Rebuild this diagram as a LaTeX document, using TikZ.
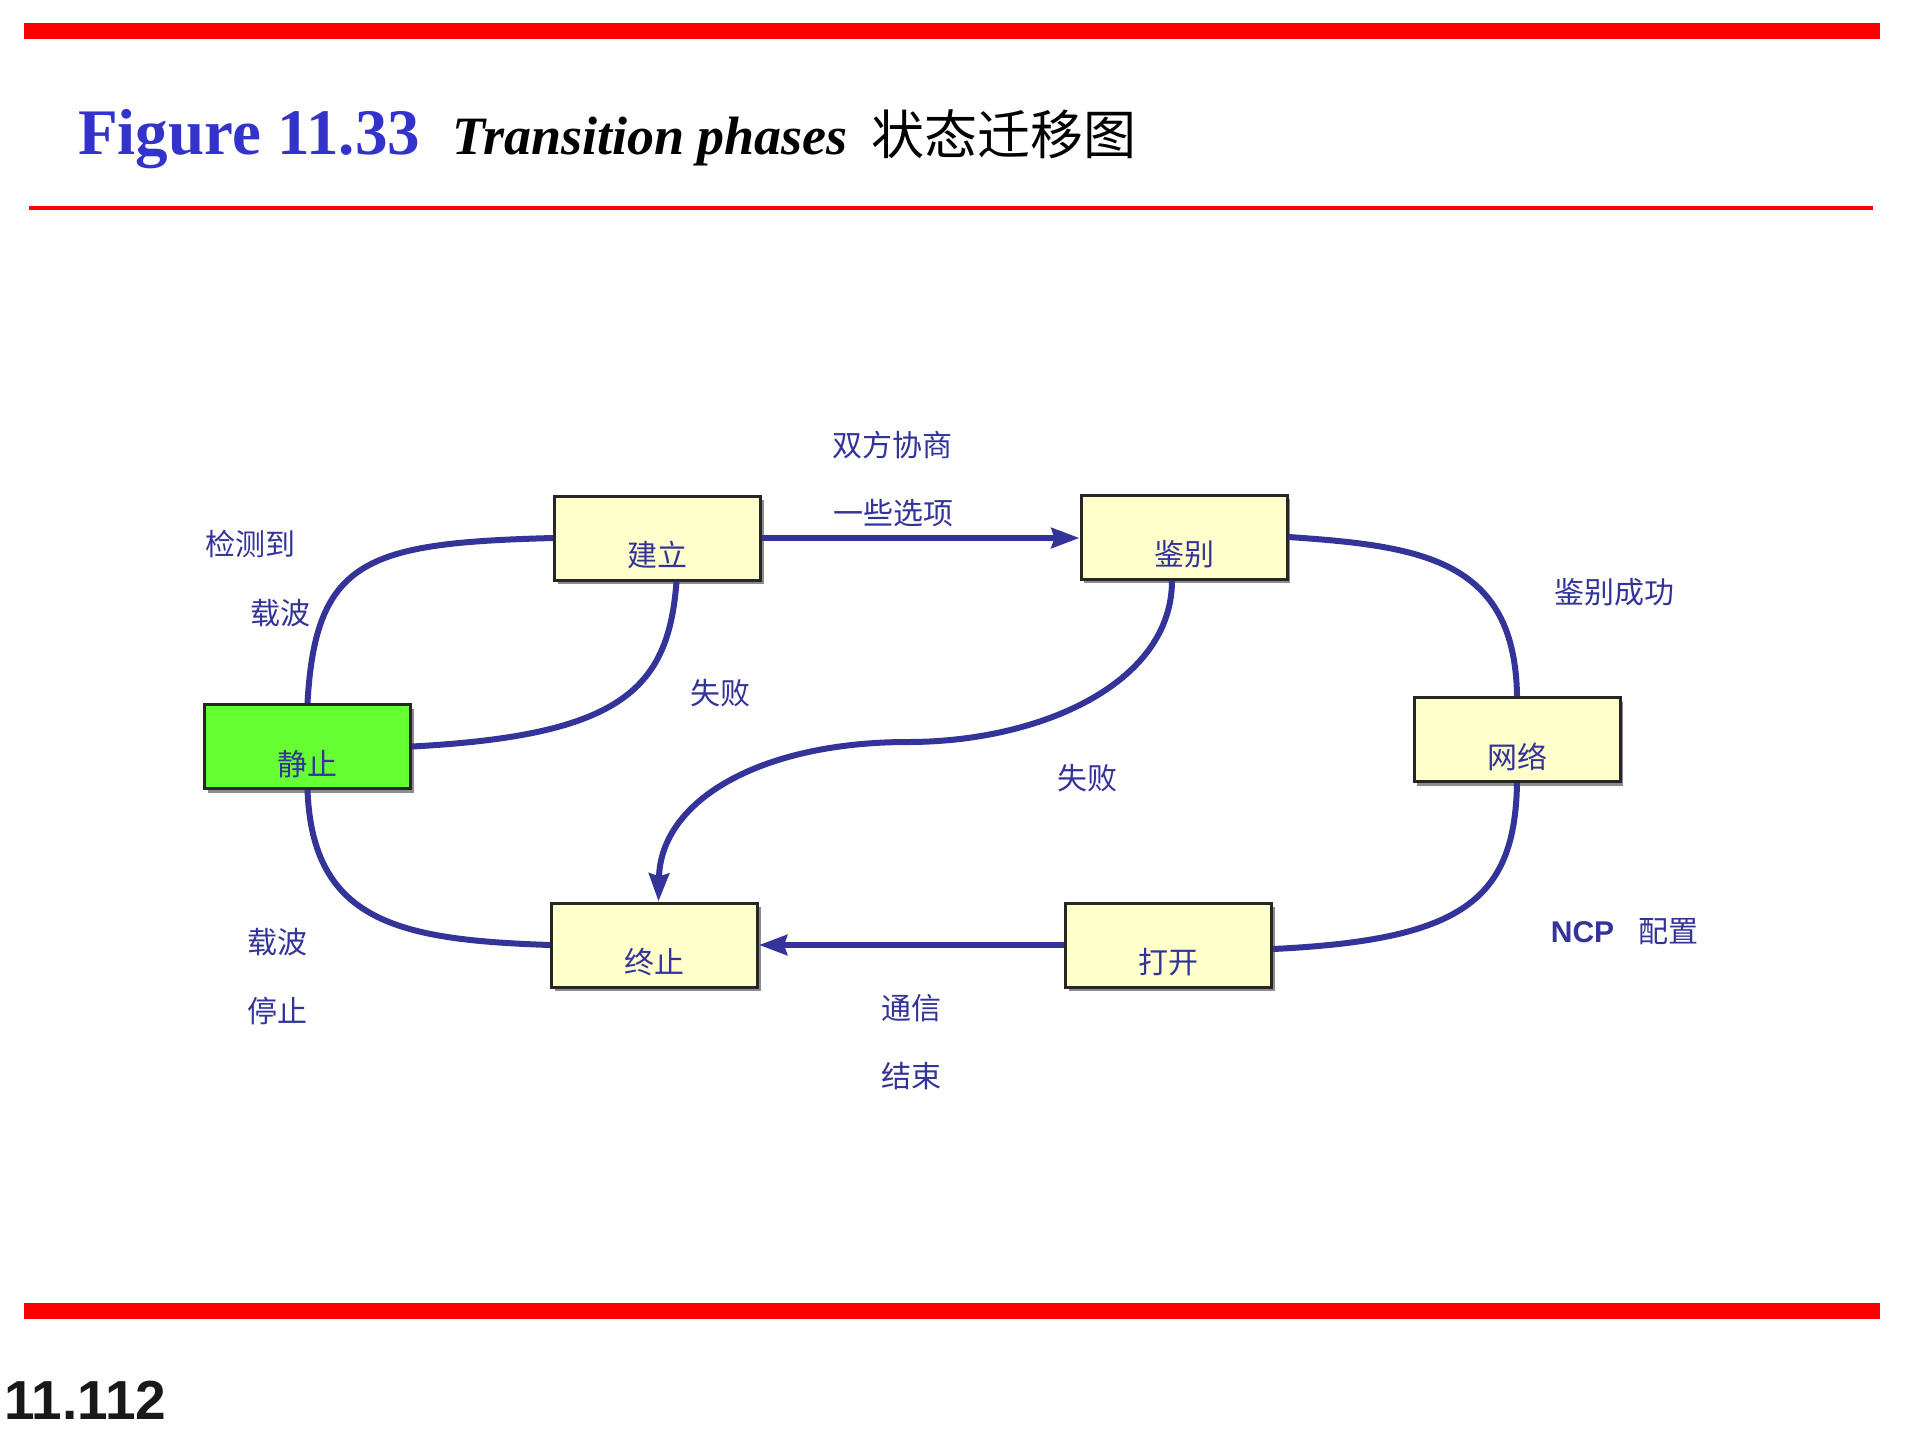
\documentclass[tikz,border=0pt]{standalone}
\usepackage{fontspec}
\setmainfont{Liberation Serif}
\newfontfamily\cjk{Noto Sans CJK SC}
\newfontfamily\arialfont{Liberation Sans}
\usetikzlibrary{arrows.meta,shadows}
\definecolor{lineblue}{RGB}{51,51,153}
\definecolor{titleblue}{RGB}{51,51,204}
\definecolor{boxyellow}{RGB}{255,255,204}
\definecolor{boxgreen}{RGB}{102,255,51}
\definecolor{barred}{RGB}{255,0,0}
\begin{document}
\begin{tikzpicture}[x=1pt,y=-1pt,
  state/.style={draw=black!85, line width=3pt, fill=boxyellow,
    minimum width=206pt, minimum height=84pt, inner sep=0pt,
    text height=57pt, text depth=0pt,
    font=\cjk\fontsize{30}{36}\selectfont, text=lineblue,
    drop shadow={shadow xshift=3pt, shadow yshift=-4pt, fill=black!45, opacity=1}},
  lbl/.style={font=\cjk\fontsize{30}{36}\selectfont, text=lineblue, inner sep=0pt},
  conn/.style={draw=lineblue, line width=6pt},
  arr/.style={conn, -{Stealth[length=28pt,width=20pt,inset=3pt]}}
]
\useasboundingbox[fill=white] (0,0) rectangle (1920,1440);

% red bars
\fill[barred] (24,23) rectangle (1880,39);
\fill[barred] (29,206) rectangle (1873,210);
\fill[barred] (24,1303) rectangle (1880,1319);

% title
\node[anchor=base west, inner sep=0pt, text=titleblue,
  font=\bfseries\fontsize{65}{72}\selectfont] (tfig) at (78,154) {Figure 11.33};
\node[anchor=base west, inner sep=0pt, text=black,
  font=\bfseries\itshape\fontsize{54}{62}\selectfont] (tname) at (452,154) {Transition phases};
\node[anchor=center, inner sep=0pt, text=black,
  font=\cjk\fontsize{53}{60}\selectfont] (tcn) at (1004,134) {状态迁移图};

% states
\node[state] (jianli) at (657.5,538) {建立};
\node[state, fill=boxgreen] (jingzhi) at (307.5,746.5) {静止};
\node[state] (jianbie) at (1184,537) {鉴别};
\node[state] (wangluo) at (1517,739.5) {网络};
\node[state] (zhongzhi) at (654.5,945) {终止};
\node[state] (dakai) at (1168.5,945) {打开};

% connectors
\draw[conn] (jingzhi.north) .. controls +(8,-145) and +(-185,5) .. (jianli.west);
\draw[conn] ([xshift=19pt]jianli.south) .. controls +(-8,108) and +(209,-11) .. (jingzhi.east);
\draw[arr] (jianli.east) -- (jianli.east -| jianbie.west);
\draw[conn] (jianbie.east) .. controls +(132,9) and +(-2,-137) .. (wangluo.north);
\draw[conn] (wangluo.south) .. controls +(-2,118) and +(188,-9) .. ([yshift=-4pt]dakai.east);
\draw[arr] (dakai.west) -- (zhongzhi.east);
\draw[conn] (jingzhi.south) .. controls +(5,132) and +(-151,-5) .. (zhongzhi.west);
\coordinate (midS) at (908,742);
\draw[arr] ([xshift=-12pt]jianbie.south) .. controls +(0,103) and +(132,0) .. (midS)
  .. controls +(-148,0) and +(2,-101) .. ([xshift=4pt]zhongzhi.north);

% labels
\node[lbl] (l1) at (250,544) {检测到};
\node[lbl] (l2) at (280,613) {载波};
\node[lbl] (l3) at (720,693) {失败};
\node[lbl] (l4) at (892,445) {双方协商};
\node[lbl] (l5) at (893,513) {一些选项};
\node[lbl] (l6) at (1614,592) {鉴别成功};
\node[lbl] (l7) at (1087,778) {失败};
\node[lbl] (l8) at (1624.5,932) {{\arialfont\bfseries NCP}\hspace{24pt}配置};
\node[lbl] (l9) at (277,942) {载波};
\node[lbl] (l10) at (277,1011) {停止};
\node[lbl] (l11) at (911,1008) {通信};
\node[lbl] (l12) at (911,1076) {结束};

% page number
\node[anchor=base west, inner sep=0pt, text=black!90,
  font=\arialfont\bfseries\fontsize{55}{62}\selectfont] (pagenum) at (4,1419) {11.112};
\end{tikzpicture}
\end{document}
